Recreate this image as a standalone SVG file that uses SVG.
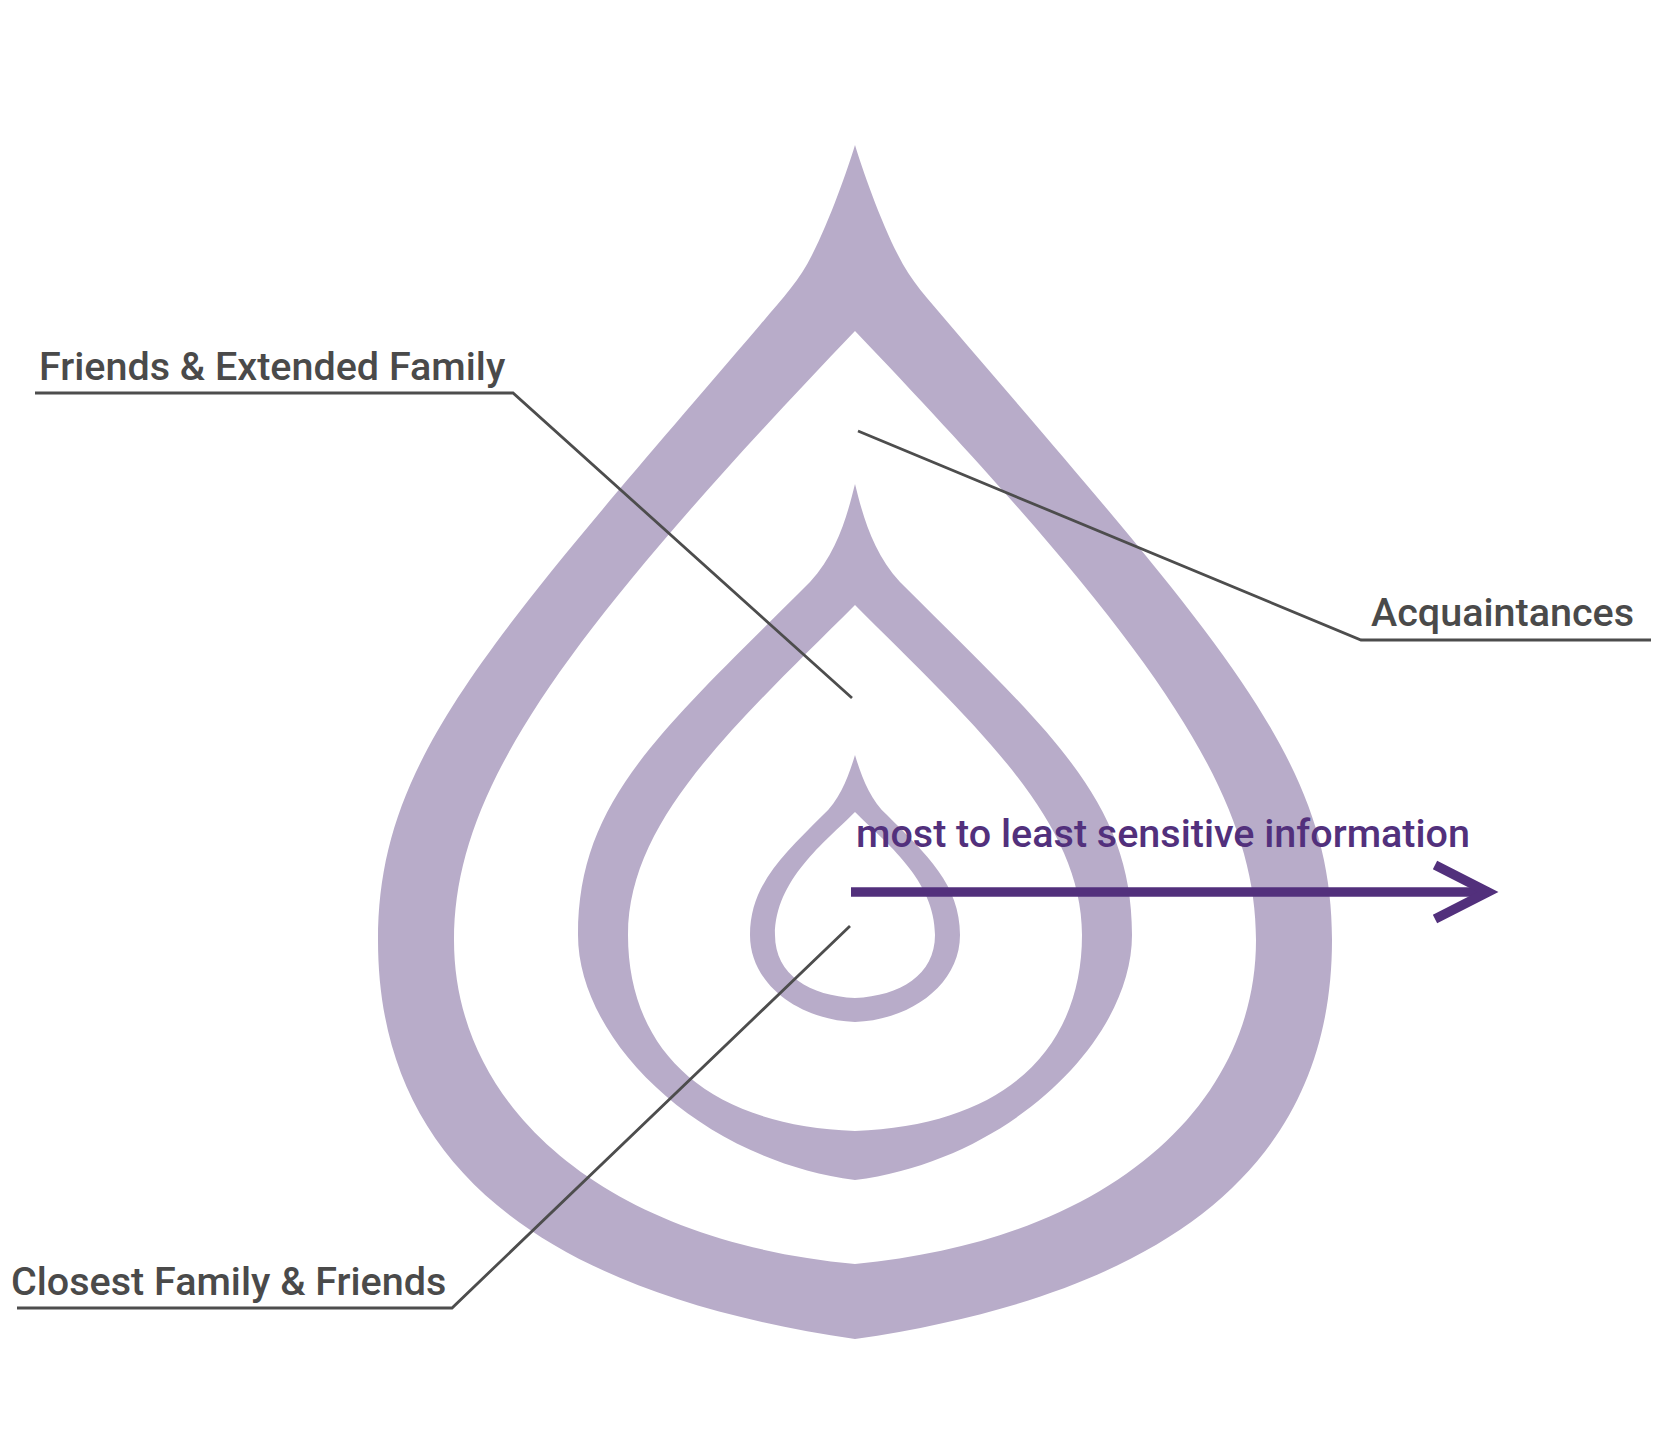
<svg xmlns="http://www.w3.org/2000/svg" width="1656" height="1450" viewBox="0 0 1656 1450">
  <style>
    .band { fill: #b8acc9; fill-rule: evenodd; stroke: none; }
    .leader { fill: none; stroke: #4d4d4d; stroke-width: 2.8; stroke-linejoin: miter; }
    .label { font-family: Roboto, "Liberation Sans", sans-serif; font-size: 39.5px; font-weight: 500; fill: #4a4a4a; }
    .arrowtext { font-family: Roboto, "Liberation Sans", sans-serif; font-size: 39.5px; font-weight: 500; fill: #52307c; }
    .arrow { fill: none; stroke: #52307c; stroke-width: 9.5; }
  </style>
  <rect width="1656" height="1450" fill="#ffffff"/>

  <g id="drop-outer">
    <path class="band" d="M855,145 C848,168 830,220 812,255 C800,280 782,299 760,325 C486,645 378,760 378,940 C378,1150 520,1290 855,1339 C1190,1290 1332,1150 1332,940 C1332,760 1224,645 950,325 C928,299 910,280 898,255 C880,220 862,168 855,145 Z M855,331 C560,640 454,790 454,940 C454,1105 600,1240 855,1264 C1110,1240 1256,1105 1256,940 C1256,790 1150,640 855,331 Z"/>
  </g>
  <g id="drop-middle">
    <path class="band" d="M855,484 C848,512 838,552 810,582 C660,732 578,800 578,935 C578,1040 700,1160 855,1180 C1010,1160 1132,1040 1132,935 C1132,800 1050,732 900,582 C872,552 862,512 855,484 Z M855,605 C735,725 628,820 628,935 C628,1045 700,1125 855,1131 C1010,1125 1082,1045 1082,935 C1082,820 975,725 855,605 Z"/>
  </g>
  <g id="drop-inner">
    <path class="band" d="M855,755 C849,775 840,800 823,815 C783,855 750,885 750,935 C750,985 800,1020 855,1022 C910,1020 960,985 960,935 C960,885 927,855 887,815 C870,800 861,775 855,755 Z M855,812 C825,842 775,880 775,935 C775,975 810,996 855,998 C900,996 935,975 935,935 C935,880 885,842 855,812 Z"/>
  </g>

  <g id="connectors">
    <polyline class="leader" points="35,393 513,393 852,698"/>
    <polyline class="leader" points="1651,640 1361,640 858,431"/>
    <polyline class="leader" points="17,1308 452,1308 850,926"/>
  </g>

  <g id="label-friends">
    <text class="label" x="39" y="380">Friends &amp; Extended Family</text>
  </g>
  <g id="label-acquaintances">
    <text class="label" x="1371" y="626">Acquaintances</text>
  </g>
  <g id="label-closest">
    <text class="label" x="11" y="1295">Closest Family &amp; Friends</text>
  </g>

  <g id="sensitivity-arrow">
    <line class="arrow" x1="851" y1="892" x2="1484" y2="892"/>
    <polyline class="arrow" points="1435,865 1488,892 1435,919"/>
    <text class="arrowtext" x="856" y="847">most to least sensitive information</text>
  </g>
</svg>
